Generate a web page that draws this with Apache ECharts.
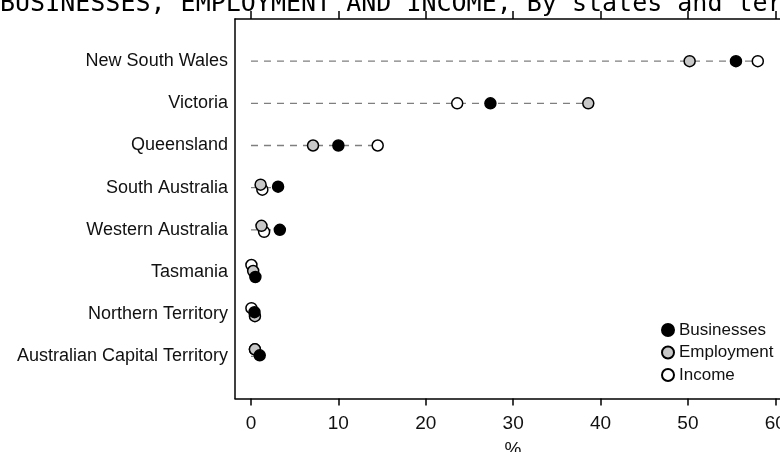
<!DOCTYPE html>
<html>
<head>
<meta charset="utf-8">
<script src="https://cdn.jsdelivr.net/npm/echarts@6/dist/echarts.min.js"></script>
<style>
  html, body { margin: 0; padding: 0; background: #ffffff; }
  #chart { width: 780px; height: 452px; }
</style>
</head>
<body>
<div id="chart"></div>
<script>
// States and territories, listed top to bottom
const regions = [
  'New South Wales', 'Victoria', 'Queensland', 'South Australia',
  'Western Australia', 'Tasmania', 'Northern Territory', 'Australian Capital Territory'
];

// Share of the national total (%)
const businesses = [55.5, 27.4, 10.0, 3.1, 3.3, 0.5, 0.4, 1.0];
const employment = [50.2, 38.6, 7.1, 1.1, 1.2, 0.25, 0.45, 0.45];
const income     = [58.0, 23.6, 14.5, 1.3, 1.5, 0.05, 0.05, 0.45];

const xTicks = [0, 10, 20, 30, 40, 50, 60];

const titleText = 'BUSINESSES, EMPLOYMENT AND INCOME, By states and territories';

// Small vertical nudges (px) so overlapping markers stay visible
const nudge = {
  Businesses: [0, 0, 0, -1, 0, 5, -2, -1],
  Employment: [0, 0, 0, -3, -4, -1, 2, -7],
  Income:     [0, 0, 0, 2, 2, -7, -6, -7]
};

const fills = { Businesses: '#000000', Employment: '#c8c8c8', Income: '#ffffff' };

function pointSeries(name, values, z) {
  return {
    name: name,
    type: 'scatter',
    z: z,
    symbol: 'circle',
    symbolSize: 11,
    itemStyle: { color: fills[name], borderColor: '#000000', borderWidth: 1.5, opacity: 1 },
    emphasis: { disabled: true },
    data: values.map((v, i) => ({
      value: [v, i + 1],
      symbolOffset: [0, nudge[name][i]]
    }))
  };
}

// Guide line from zero to the largest of the three shares in each row
const rowMax = regions.map((_, i) => [Math.max(businesses[i], employment[i], income[i]), i + 1]);

const chart = echarts.init(document.getElementById('chart'), null, { renderer: 'canvas' });

const axisFont = 'Liberation Sans';

chart.setOption({
  animation: false,
  backgroundColor: '#ffffff',
  textStyle: { fontFamily: axisFont },
  grid: {
    left: 235, top: 19, right: -11, bottom: 53.5,
    containLabel: false,
    outerBoundsMode: 'none'
  },
  xAxis: [
    {
      type: 'value',
      position: 'bottom',
      min: -1.83,
      max: 61.8,
      name: '%',
      nameLocation: 'middle',
      nameGap: 42,
      nameTextStyle: { color: '#111111', fontSize: 19, fontFamily: axisFont },
      axisLine: { show: true, onZero: false, lineStyle: { color: '#000000', width: 1.5 } },
      axisTick: { show: true, length: 7, customValues: xTicks, lineStyle: { color: '#000000', width: 1.5 } },
      axisLabel: { customValues: xTicks, margin: 16, color: '#111111', fontSize: 19, fontFamily: axisFont },
      splitLine: { show: false }
    },
    {
      type: 'value',
      position: 'top',
      min: -1.83,
      max: 61.8,
      axisLine: { show: true, onZero: false, lineStyle: { color: '#000000', width: 1.5 } },
      axisTick: { show: true, length: 8, customValues: xTicks, lineStyle: { color: '#000000', width: 1.5 } },
      axisLabel: { show: false },
      splitLine: { show: false }
    }
  ],
  yAxis: {
    type: 'value',
    inverse: true,
    min: 0,
    max: 9,
    axisLine: { show: true, onZero: false, lineStyle: { color: '#000000', width: 1.5 } },
    axisTick: { show: false },
    splitLine: { show: false },
    axisLabel: {
      customValues: regions.map((_, i) => i + 1),
      formatter: v => regions[Math.round(v) - 1] || '',
      margin: 7,
      color: '#111111',
      fontSize: 18,
      fontFamily: axisFont
    }
  },
  legend: {
    orient: 'vertical',
    left: 656,
    top: 314,
    itemWidth: 12,
    itemHeight: 12,
    itemGap: 0.5,
    icon: 'circle',
    data: ['Businesses', 'Employment', 'Income'],
    textStyle: { color: '#111111', fontSize: 17, lineHeight: 22, fontFamily: axisFont }
  },
  graphic: [
    {
      type: 'text',
      x: 0,
      y: 17,
      silent: true,
      style: {
        text: titleText,
        font: '25px "DejaVu Sans Mono"',
        fill: '#000000',
        verticalAlign: 'bottom'
      }
    }
  ],
  series: [
    {
      type: 'custom',
      name: 'guide',
      z: 1,
      silent: true,
      data: rowMax,
      renderItem: function (params, api) {
        const start = api.coord([0, api.value(1)]);
        const end = api.coord([api.value(0), api.value(1)]);
        return {
          type: 'line',
          shape: { x1: start[0], y1: start[1], x2: end[0], y2: end[1] },
          style: { stroke: '#7f7f7f', lineWidth: 1.3, lineDash: [7, 6] }
        };
      }
    },
    pointSeries('Income', income, 2),
    pointSeries('Employment', employment, 3),
    pointSeries('Businesses', businesses, 4)
  ]
});
</script>
</body>
</html>
